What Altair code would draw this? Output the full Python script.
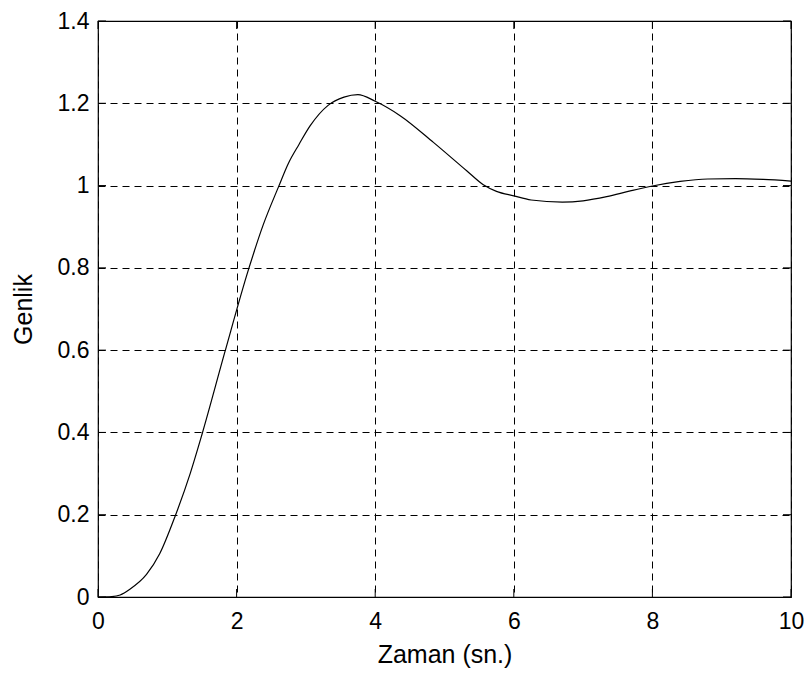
import altair as alt
import pandas as pd

# Step response
t_vals = [0.0, 0.2, 0.32, 0.46, 0.70, 0.89, 1.11, 1.33, 1.50, 1.83, 2.17, 2.385,
          2.60, 2.75, 2.90, 3.06, 3.32, 3.55, 3.75, 4.0, 4.36, 4.84, 5.32, 5.56, 5.75,
          6.0, 6.25, 6.7, 7.0, 7.34, 7.68, 8.0, 8.4, 8.8, 9.2, 9.6, 10.0]
y_vals = [0.0, 0.001, 0.005, 0.019, 0.055, 0.105, 0.195, 0.30, 0.395, 0.595, 0.795, 0.905,
          0.995, 1.055, 1.10, 1.145, 1.195, 1.215, 1.221, 1.205, 1.170, 1.105, 1.036, 1.002, 0.986,
          0.975, 0.965, 0.960, 0.963, 0.973, 0.987, 0.999, 1.010, 1.016, 1.017, 1.015, 1.011]

x_ticks = [0, 2, 4, 6, 8, 10]
y_ticks = [0, 0.2, 0.4, 0.6, 0.8, 1.0, 1.2, 1.4]

x_title = "Zaman (sn.)"
y_title = "Genlik"

FONT = "Liberation Sans"
W, H = 693, 576

curve = pd.DataFrame({"t": t_vals, "y": y_vals})
xt = pd.DataFrame({"t": x_ticks})
yt = pd.DataFrame({"y": y_ticks})

xscale = alt.Scale(domain=[0, 10], nice=False, zero=False)
yscale = alt.Scale(domain=[0, 1.4], nice=False, zero=False)

xaxis = alt.Axis(values=x_ticks, title=x_title, grid=True, gridColor="black",
                 gridDash=[7, 5], gridOpacity=1, gridWidth=1,
                 domain=False, ticks=True, tickSize=0,
                 labelFont=FONT, labelFontSize=23, labelColor="black",
                 labelBaseline="alphabetic", labelPadding=31,
                 labelFlush=False, labelOverlap=False,
                 titleFont=FONT, titleFontSize=25, titleFontWeight="normal",
                 titleColor="black", titleX=W / 2, titleY=65,
                 titleBaseline="alphabetic", titleAlign="center")
yaxis = alt.Axis(values=y_ticks, title=y_title, format="~g", grid=True,
                 gridColor="black", gridDash=[7, 5], gridOpacity=1, gridWidth=1,
                 domain=False, ticks=True, tickSize=0,
                 labelFont=FONT, labelFontSize=23, labelColor="black",
                 labelPadding=9, labelFlush=False, labelOverlap=False,
                 titleFont=FONT, titleFontSize=25, titleFontWeight="normal",
                 titleColor="black", titleX=-75, titleY=H / 2,
                 titleAngle=270, titleAlign="center", titleBaseline="middle")

line = alt.Chart(curve).mark_line(color="black", strokeWidth=1.2, interpolate="monotone").encode(
    x=alt.X("t:Q", scale=xscale, axis=xaxis),
    y=alt.Y("y:Q", scale=yscale, axis=yaxis),
)

tick_len = 8
xb = alt.Chart(xt).mark_rule(color="black", strokeWidth=1).encode(
    x=alt.X("t:Q", scale=xscale, axis=xaxis),
    y=alt.value(H), y2=alt.value(H - tick_len))
xtop = alt.Chart(xt).mark_rule(color="black", strokeWidth=1).encode(
    x=alt.X("t:Q", scale=xscale, axis=xaxis),
    y=alt.value(0), y2=alt.value(tick_len))
yl = alt.Chart(yt).mark_rule(color="black", strokeWidth=1).encode(
    y=alt.Y("y:Q", scale=yscale, axis=yaxis),
    x=alt.value(0), x2=alt.value(tick_len))
yr = alt.Chart(yt).mark_rule(color="black", strokeWidth=1).encode(
    y=alt.Y("y:Q", scale=yscale, axis=yaxis),
    x=alt.value(W), x2=alt.value(W - tick_len))

chart = alt.layer(line, xb, xtop, yl, yr).properties(
    width=W, height=H,
    autosize=alt.AutoSizeParams(type="none"),
    padding={"left": 98, "top": 21, "right": 17, "bottom": 78},
    background="white",
).configure_view(stroke="black", strokeWidth=1.2)

chart.save("out.html", embed_options={"renderer": "svg", "actions": False})
